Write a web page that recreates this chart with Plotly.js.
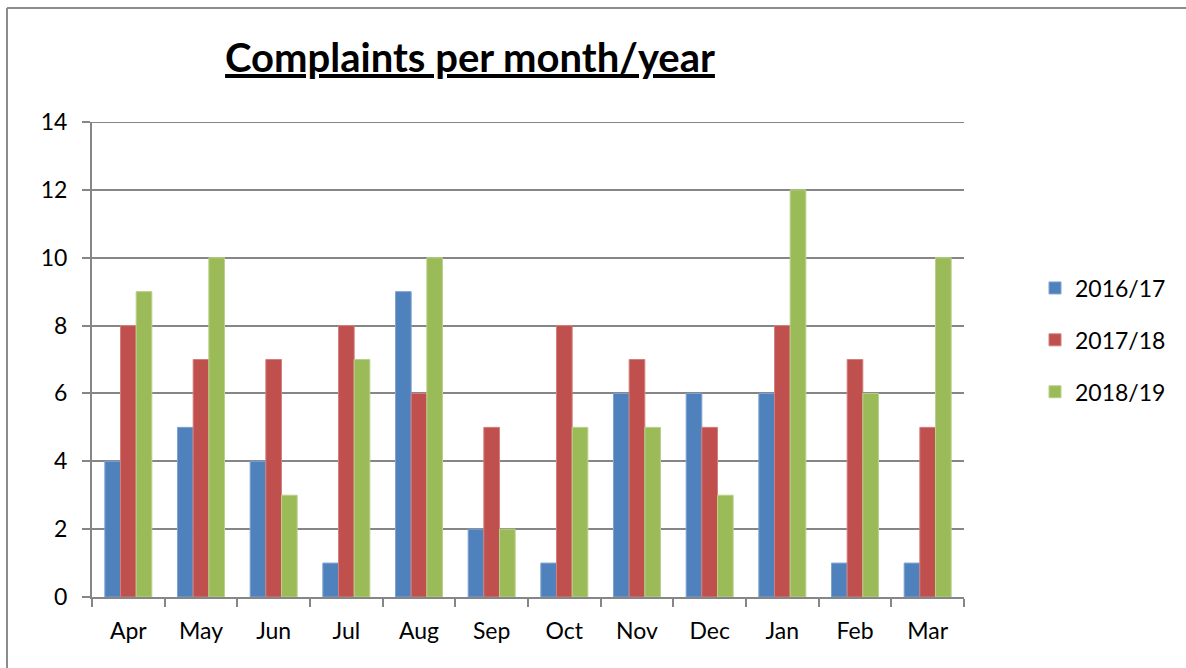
<!DOCTYPE html>
<html>
<head>
<meta charset="utf-8">
<script src="https://cdn.plot.ly/plotly-3.0.1.min.js"></script>
<style>html,body{margin:0;padding:0;background:#fff;}#chart{width:1186px;height:668px;}</style>
</head>
<body>
<div id="chart"></div>
<script>
const months = ["Apr","May","Jun","Jul","Aug","Sep","Oct","Nov","Dec","Jan","Feb","Mar"];
const seriesNames = ["2016/17","2017/18","2018/19"];
const y2016 = [4,5,4,1,9,2,1,6,6,6,1,1];
const y2017 = [8,7,7,8,6,5,8,7,5,8,7,5];
const y2018 = [9,10,3,7,10,2,5,5,3,12,6,10];
const colors = ["#4F81BD","#C0504D","#9BBB59"];
const edge = ["#7FA3D1","#D27F7D","#B9D18A"];

const allY = [y2016, y2017, y2018];
const traces = allY.map((ys, i) => ({
  type: "bar",
  name: seriesNames[i],
  x: months,
  y: ys,
  legendgroup: "g" + i,
  marker: {color: colors[i], line: {color: edge[i], width: 1}},
  hoverinfo: "x+y+name"
}));

const font = "Lato, Carlito, 'Liberation Sans', sans-serif";
const gray = "#868686";
const layout = {
  width: 1186, height: 668,
  margin: {l: 92, r: 222, t: 122, b: 71},
  paper_bgcolor: "#fff", plot_bgcolor: "#fff",
  font: {family: font, size: 23, color: "#000"},
  title: {
    text: "<b><u>Complaints per month/year</u></b>",
    font: {family: font, size: 40, color: "#000"},
    xref: "container", x: 470/1186, xanchor: "center",
    yref: "container", y: 1 - 58/668, yanchor: "middle"
  },
  barmode: "group",
  bargap: 0.353,
  bargroupgap: 0,
  xaxis: {
    type: "category",
    showgrid: false,
    showline: true, linecolor: gray, linewidth: 2,
    ticks: "outside", tickson: "boundaries", ticklen: 8, tickwidth: 2, tickcolor: gray,
    tickfont: {family: font, size: 23, color: "#000"},
    ticklabelstandoff: 12,
    fixedrange: true
  },
  yaxis: {
    range: [0, 14], dtick: 2,
    showgrid: true, gridcolor: gray, gridwidth: 2,
    showline: true, linecolor: gray, linewidth: 2,
    ticks: "outside", ticklen: 8, tickwidth: 2, tickcolor: gray,
    tickfont: {family: font, size: 23, color: "#000"},
    ticklabelstandoff: 10,
    zeroline: false,
    fixedrange: true
  },
  legend: {
    x: (1035 - 92) / 872, xanchor: "left",
    y: (597 - 340) / 475, yanchor: "middle",
    traceorder: "grouped",
    tracegroupgap: 19,
    font: {family: font, size: 23, color: "#000"},
    itemwidth: 30
  },
  shapes: [
    {type: "line", xref: "paper", yref: "y", x0: 0, x1: 1, y0: 14, y1: 14, line: {color: gray, width: 2}, layer: "below"},
    {type: "line", xref: "paper", yref: "paper", x0: (7 - 92) / 872, x1: (7 - 92) / 872, y0: -0.2, y1: (597 - 8) / 475, line: {color: "#8c8c8c", width: 2}},
    {type: "line", xref: "paper", yref: "paper", x0: (7 - 92) / 872, x1: 1.3, y0: (597 - 8) / 475, y1: (597 - 8) / 475, line: {color: "#8c8c8c", width: 2}}
  ]
};

Plotly.newPlot("chart", traces, layout, {displayModeBar: false, staticPlot: true});
</script>
</body>
</html>
